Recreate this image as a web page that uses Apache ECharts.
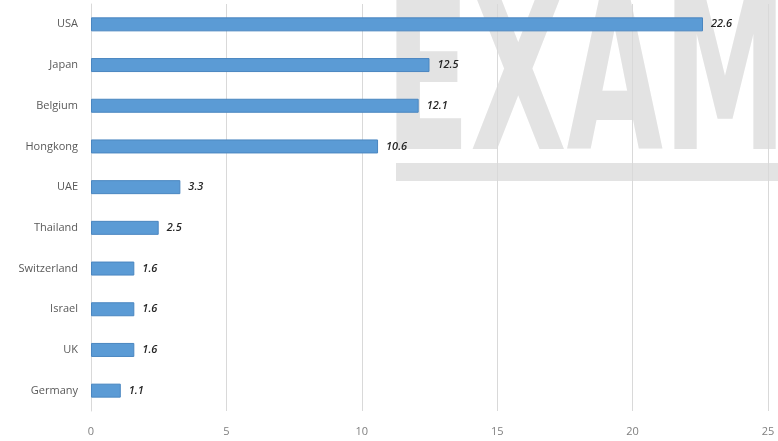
<!DOCTYPE html>
<html><head><meta charset="utf-8">
<script src="https://cdn.jsdelivr.net/npm/echarts@6/dist/echarts.min.js"></script>
<style>html,body{margin:0;padding:0;background:#fff}#c{width:778px;height:441px}</style>
</head><body><div id="c"></div>
<script>
const categories = ["USA","Japan","Belgium","Hongkong","UAE","Thailand","Switzerland","Israel","UK","Germany"];
const values = [22.6,12.5,12.1,10.6,3.3,2.5,1.6,1.6,1.6,1.1];
const xTicks = [0,5,10,15,20,25];

const chart = echarts.init(document.getElementById('c'));
chart.setOption({
  animation:false,
  backgroundColor:'#fff',
  graphic:[
    {type:'text', z:-10, x:385, y:-15, scaleX:0.6, scaleY:1.04, style:{text:'EXAMS', font:'bold 208px "DejaVu Sans"', fill:'#e3e3e3'}},
    {type:'rect', z:-10, shape:{x:396,y:163,width:382,height:18}, style:{fill:'#e3e3e3'}}
  ],
  grid:{left:91,right:10,top:4,bottom:30,containLabel:false},
  xAxis:{type:'value',min:0,max:25,interval:5,
    axisLine:{show:false},axisTick:{show:false},
    splitLine:{lineStyle:{color:'#d9d9d9',width:1}},
    axisLabel:{color:'#7f7f7f',fontSize:11,fontFamily:'"Open Sans",sans-serif',margin:15,
      formatter:v=>xTicks.includes(v)?String(v):''}},
  yAxis:{type:'category',data:categories,inverse:true,
    axisLine:{show:true,lineStyle:{color:'#d9d9d9'}},axisTick:{show:false},
    axisLabel:{color:'#595959',fontSize:11,fontFamily:'"Open Sans",sans-serif',margin:13}},
  series:[{type:'bar',data:values,barWidth:14,
    itemStyle:{color:'#5b9bd5',borderColor:'#4a86c0',borderWidth:1},
    label:{show:true,position:'right',distance:8,color:'#262626',fontSize:11,
      fontStyle:'italic',fontWeight:600,fontFamily:'"Open Sans",sans-serif',
      formatter:p=>p.value.toFixed(1)}}]
});
</script></body></html>
